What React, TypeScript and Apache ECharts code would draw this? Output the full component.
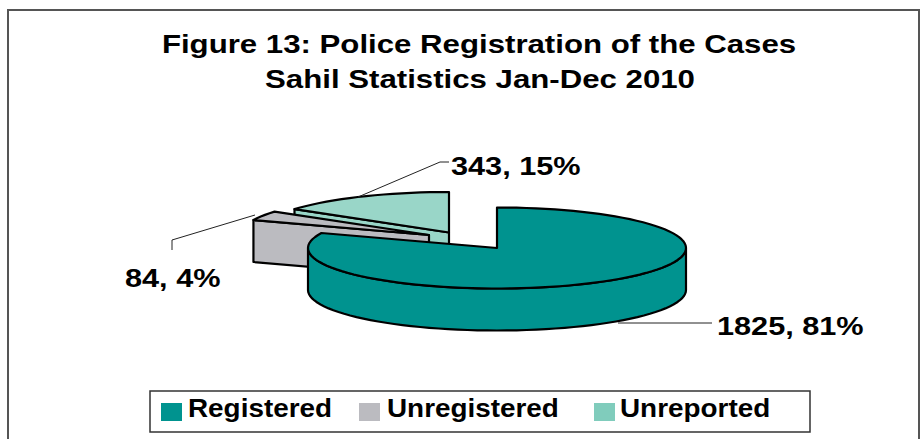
import React, { useEffect, useRef } from "react";
import * as echarts from "echarts";

const categories = ["Registered", "Unregistered", "Unreported"];
const values = [1825, 84, 343];
const percents = [81, 4, 15];
const titleLines = ["Figure 13: Police Registration of the Cases", "Sahil Statistics Jan-Dec 2010"];

const sliceColors = ["#00938F", "#BBBBC0", "#99D6C8"];
const legendColors = ["#00938F", "#BBBBC0", "#80CCBC"];
const apexes = [[497, 248], [429, 235], [449, 232.5]];
const leaders = [
  [[618, 323], [712, 323]],
  [[255, 215], [172, 240], [172, 250]],
  [[358, 197], [440, 162], [449, 162]],
];
const labelPos = [[717, 326], [125, 278], [451, 166]];
const legendSwatchX = [161, 359, 594];
const legendTextX = [188, 387, 620];

const RX = 189, RY = 40.5, DEPTH = 42;
const STRETCH = 1.18;
const total = values.reduce((a, b) => a + b, 0);

function arc(cx: number, cy: number, a0: number, a1: number) {
  const pts: number[][] = [];
  const n = Math.max(2, Math.ceil((a1 - a0) / 3));
  for (let i = 0; i <= n; i++) {
    const t = ((a0 + ((a1 - a0) * i) / n) * Math.PI) / 180;
    pts.push([cx + RX * Math.sin(t), cy - RY * Math.cos(t)]);
  }
  return pts;
}

function makeRender(idx: number) {
  return (_p: any, api: any) => {
    const before = values.slice(0, idx).reduce((a, b) => a + b, 0);
    const a0 = (before / total) * 360;
    const a1 = a0 + (api.value(0) / total) * 360;
    const [cx, cy] = apexes[idx];
    const style = { fill: sliceColors[idx], stroke: "#000", lineWidth: 2.2, lineJoin: "round" };
    const children: any[] = [];
    const poly = (points: number[][]) => children.push({ type: "polygon", shape: { points }, style });
    const down = (p: number[]) => [p[0], p[1] + DEPTH];
    const rim = (a: number) => arc(cx, cy, a, a + 0.001)[0];
    // radial walls that face the viewer
    if (a0 > 180 && a0 < 360) {
      const r = rim(a0);
      poly([[cx, cy], r, down(r), [cx, cy + DEPTH]]);
    }
    if (a1 > 0 && a1 < 180) {
      const r = rim(a1);
      poly([[cx, cy], r, down(r), [cx, cy + DEPTH]]);
    }
    // outer wall, front half of the ellipse only
    const f0 = Math.max(a0, 90), f1 = Math.min(a1, 270);
    if (f1 > f0) {
      const top = arc(cx, cy, f0, f1);
      poly([...top, ...top.slice().reverse().map(down)]);
    }
    // top face
    poly([[cx, cy], ...arc(cx, cy, a0, a1)]);
    // leader
    children.push({ type: "polyline", shape: { points: leaders[idx] }, style: { stroke: "#222", lineWidth: 1, fill: "none" } });
    children.push({
      type: "text",
      x: labelPos[idx][0],
      y: labelPos[idx][1],
      scaleX: STRETCH,
      style: {
        text: `${values[idx]}, ${percents[idx]}%`,
        font: "bold 26px 'Liberation Sans'",
        fill: "#000",
        align: "left",
        verticalAlign: "middle",
      },
    });
    return { type: "group", children };
  };
}

const boldText = (text: string, x: number, y: number, size: number, scaleX: number, align: string) => ({
  type: "text",
  x,
  y,
  scaleX,
  silent: true,
  style: { text, font: `bold ${size}px 'Liberation Sans'`, fill: "#000", align, verticalAlign: "middle" },
});

export default function App() {
  const ref = useRef<HTMLDivElement>(null);
  useEffect(() => {
    const chart = echarts.init(ref.current!, undefined, { renderer: "svg" });
    chart.setOption({
      animation: false,
      backgroundColor: "#fff",
      graphic: [
        { type: "rect", shape: { x: 8, y: 10, width: 911, height: 440 }, style: { fill: "none", stroke: "#555", lineWidth: 2 }, silent: true },
        boldText(titleLines[0], 479, 44, 26, 1.2, "center"),
        boldText(titleLines[1], 480, 79, 26, 1.2, "center"),
        { type: "rect", shape: { x: 150, y: 391, width: 660, height: 41 }, style: { fill: "#fff", stroke: "#333", lineWidth: 1.5 }, silent: true },
        ...categories.flatMap((name, i) => [
          { type: "rect", shape: { x: legendSwatchX[i], y: 403, width: 21, height: 18 }, style: { fill: legendColors[i] }, silent: true },
          boldText(name, legendTextX[i], 409, 25, 1.115, "left"),
        ]),
      ],
      series: [2, 1, 0].map((i) => ({
        type: "custom",
        name: categories[i],
        coordinateSystem: "none",
        silent: true,
        data: [[values[i]]],
        renderItem: makeRender(i),
      })),
    });
    return () => chart.dispose();
  }, []);
  return <div ref={ref} style={{ position: "fixed", left: 0, top: 0, width: 922, height: 439 }} />;
}
